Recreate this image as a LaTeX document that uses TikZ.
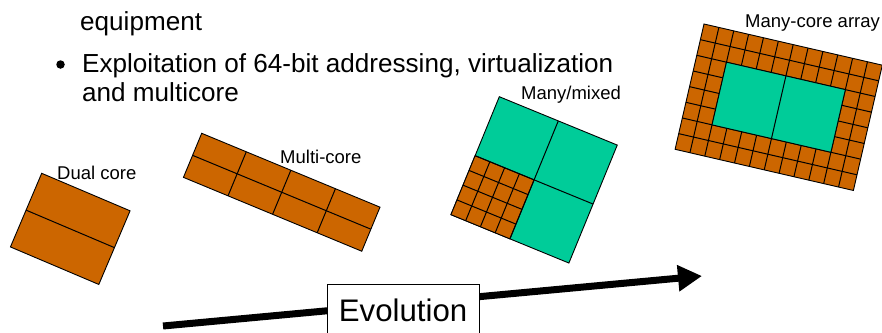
\documentclass[tikz,border=0pt]{standalone}
\usepackage{fontspec}
\setmainfont{Liberation Sans}
\usetikzlibrary{arrows.meta}
\definecolor{coreorange}{RGB}{204,102,0}
\definecolor{coreteal}{RGB}{0,204,153}
\tikzset{
  bodytext/.style={inner sep=0pt, anchor=base west, font=\fontsize{26.1}{30}\selectfont},
  chiplabel/.style={inner sep=0pt, anchor=base west, font=\fontsize{18.5}{22}\selectfont},
  smallcore/.style={fill=coreorange, draw=black, line width=0.9pt},
  bigcore/.style={fill=coreteal, draw=black, line width=0.9pt},
  cellline/.style={draw=black, line width=1pt},
  evoarrow/.style={line width=7pt, -{Triangle[length=24pt, width=25pt]}},
  evobox/.style={draw=black, fill=white, line width=0.8pt, anchor=base west,
    inner xsep=11.8pt, inner ysep=0pt, text height=36.6pt, text depth=40pt,
    font=\fontsize{31.2}{36}\selectfont}
}
\begin{document}
\begin{tikzpicture}[x=1pt, y=-1pt]
\useasboundingbox (0,0) rectangle (882,332);

% bullet text
\node[bodytext] (eq) at (80,30) {equipment};
\node[circle, fill=black, inner sep=0pt, minimum size=8.5pt] (bul) at (60.5,64.5) {};
\node[bodytext] (expl) at (82,72.3) {Exploitation of 64-bit addressing, virtualization};
\node[bodytext] (multi) at (82,101.7) {and multicore};

% dual core
\begin{scope}[shift={(41.7,173.3)}, rotate=-23]
  \path[smallcore] (0,0) rectangle (96,80);
  \draw[cellline] (0,40) -- (96,40);
\end{scope}
\node[chiplabel] (lbldual) at (57,179) {Dual core};

% multi-core: 4 x 2 cells
\begin{scope}[shift={(201.7,133.3)}, rotate=-22.5]
  \path[smallcore] (0,0) rectangle (193,47.7);
  \foreach \i in {1,2,3} \draw[cellline] ({\i*48.25},0) -- ({\i*48.25},47.7);
  \draw[cellline] (0,23.85) -- (193,23.85);
\end{scope}
\node[chiplabel] (lblmulti) at (280,163) {Multi-core};

% many/mixed: 2 x 2 big cores, one quarter split into 4 x 4 small cores
\begin{scope}[shift={(499.3,96.7)}, rotate=-22.3]
  \path[bigcore] (0,0) rectangle (127.5,127.5);
  \path[smallcore] (0,63.75) rectangle (63.75,127.5);
  \foreach \i in {1,2,3} {
    \draw[cellline] ({\i*15.94},63.75) -- ({\i*15.94},127.5);
    \draw[cellline] (0,{63.75+\i*15.94}) -- (63.75,{63.75+\i*15.94});
  }
  \draw[cellline] (63.75,0) -- (63.75,127.5);
  \draw[cellline] (0,63.75) -- (127.5,63.75);
\end{scope}
\node[chiplabel] (lblmixed) at (521,99) {Many/mixed};

% many-core array: 12 x 8 small cores around two big cores
\begin{scope}[shift={(704,24)}, rotate=-13]
  \path[smallcore] (0,0) rectangle (183,128.6);
  \foreach \i in {1,...,11} \draw[cellline] ({\i*15.25},0) -- ({\i*15.25},128.6);
  \foreach \j in {1,...,7} \draw[cellline] (0,{\j*16.075}) -- (183,{\j*16.075});
  \path[bigcore] (30.5,32.15) rectangle (152.5,96.45);
  \draw[cellline] (91.5,32.15) -- (91.5,96.45);
\end{scope}
\node[chiplabel] (lblarray) at (745,27) {Many-core array};

% evolution arrow
\coordinate (evoA) at (163,326);
\coordinate (evoB) at (702,276);
\draw[evoarrow] (evoA) -- (evoB);
\node[evobox] (evo) at (326.7,321.3) {Evolution};
\end{tikzpicture}
\end{document}
